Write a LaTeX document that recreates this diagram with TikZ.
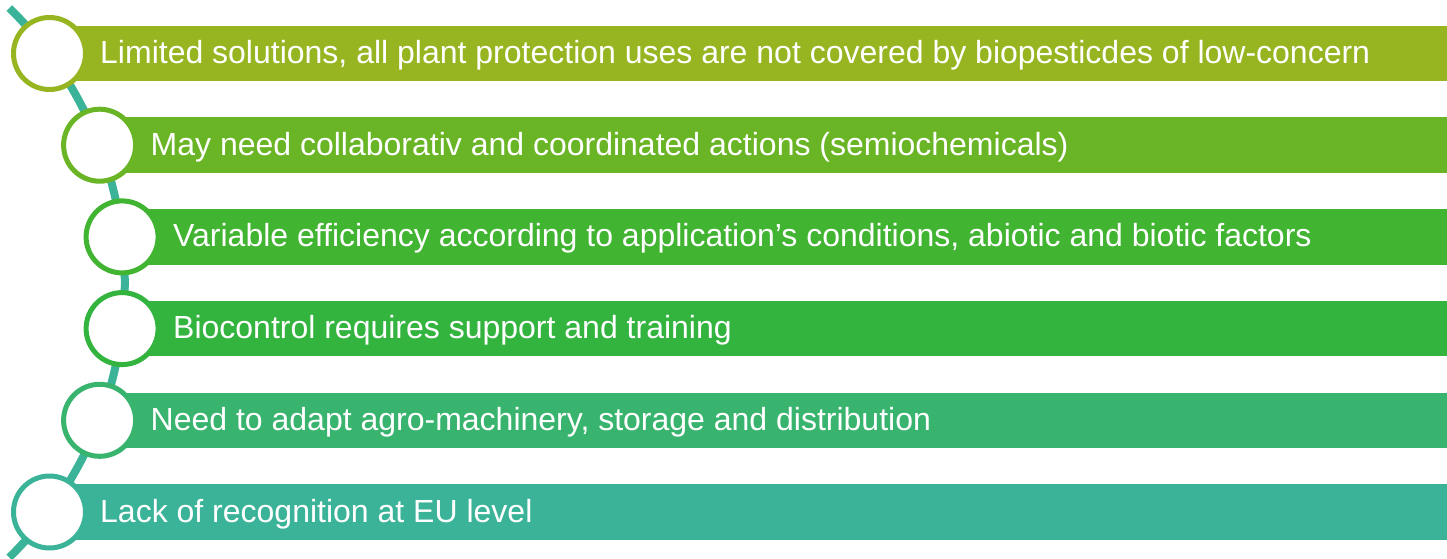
\documentclass[tikz,border=0pt]{standalone}
\usepackage{fontspec}
\setmainfont{Liberation Sans}
\definecolor{c1}{HTML}{97B521}
\definecolor{c2}{HTML}{6AB526}
\definecolor{c3}{HTML}{41B431}
\definecolor{c4}{HTML}{33B43F}
\definecolor{c5}{HTML}{38B46E}
\definecolor{c6}{HTML}{3BB398}
\definecolor{arcline}{HTML}{3BB398}
\begin{document}
\begin{tikzpicture}[x=1pt,y=-1pt,
  barbox/.style={rectangle, inner sep=0pt, minimum height=55.6pt, anchor=west},
  circbox/.style={circle, fill=white, line width=5pt, minimum size=72pt, inner sep=0pt},
  txt/.style={anchor=base west, inner sep=0pt, text=white, font=\fontsize{32}{38}\selectfont}]
\useasboundingbox (0,0) rectangle (1447,559);
\draw[arcline, line width=8pt] plot[domain=-45.6:45.6, samples=80] ({-259.7+384.5*cos(\x)}, {282.7+384.5*sin(\x)});
\foreach \i/\cx/\cy in {1/49.5/53.5, 2/99.6/145.2, 3/122.1/236.9, 4/122.1/328.6, 5/99.6/420.3, 6/49.5/512} {
  \coordinate (p\i) at (\cx,\cy);
}
\node[barbox, fill=c1, minimum width=1397.5pt] (b1) at (p1) {};
\node[barbox, fill=c2, minimum width=1347.4pt] (b2) at (p2) {};
\node[barbox, fill=c3, minimum width=1324.9pt] (b3) at (p3) {};
\node[barbox, fill=c4, minimum width=1324.9pt] (b4) at (p4) {};
\node[barbox, fill=c5, minimum width=1347.4pt] (b5) at (p5) {};
\node[barbox, fill=c6, minimum width=1397.5pt] (b6) at (p6) {};
\node[circbox, draw=c1] (k1) at (p1) {};
\node[circbox, draw=c2] (k2) at (p2) {};
\node[circbox, draw=c3] (k3) at (p3) {};
\node[circbox, draw=c4] (k4) at (p4) {};
\node[circbox, draw=c5] (k5) at (p5) {};
\node[circbox, draw=c6] (k6) at (p6) {};
\node[txt] (t1) at (100,63.5) {Limited solutions, all plant protection uses are not covered by biopesticdes of low-concern};
\node[txt] (t2) at (150.5,155.2) {May need collaborativ and coordinated actions (semiochemicals)};
\node[txt] (t3) at (173,246.9) {Variable efficiency according to application’s conditions, abiotic and biotic factors};
\node[txt] (t4) at (173,338.6) {Biocontrol requires support and training};
\node[txt] (t5) at (150.5,430.3) {Need to adapt agro-machinery, storage and distribution};
\node[txt] (t6) at (100,522) {Lack of recognition at EU level};
\end{tikzpicture}
\end{document}
